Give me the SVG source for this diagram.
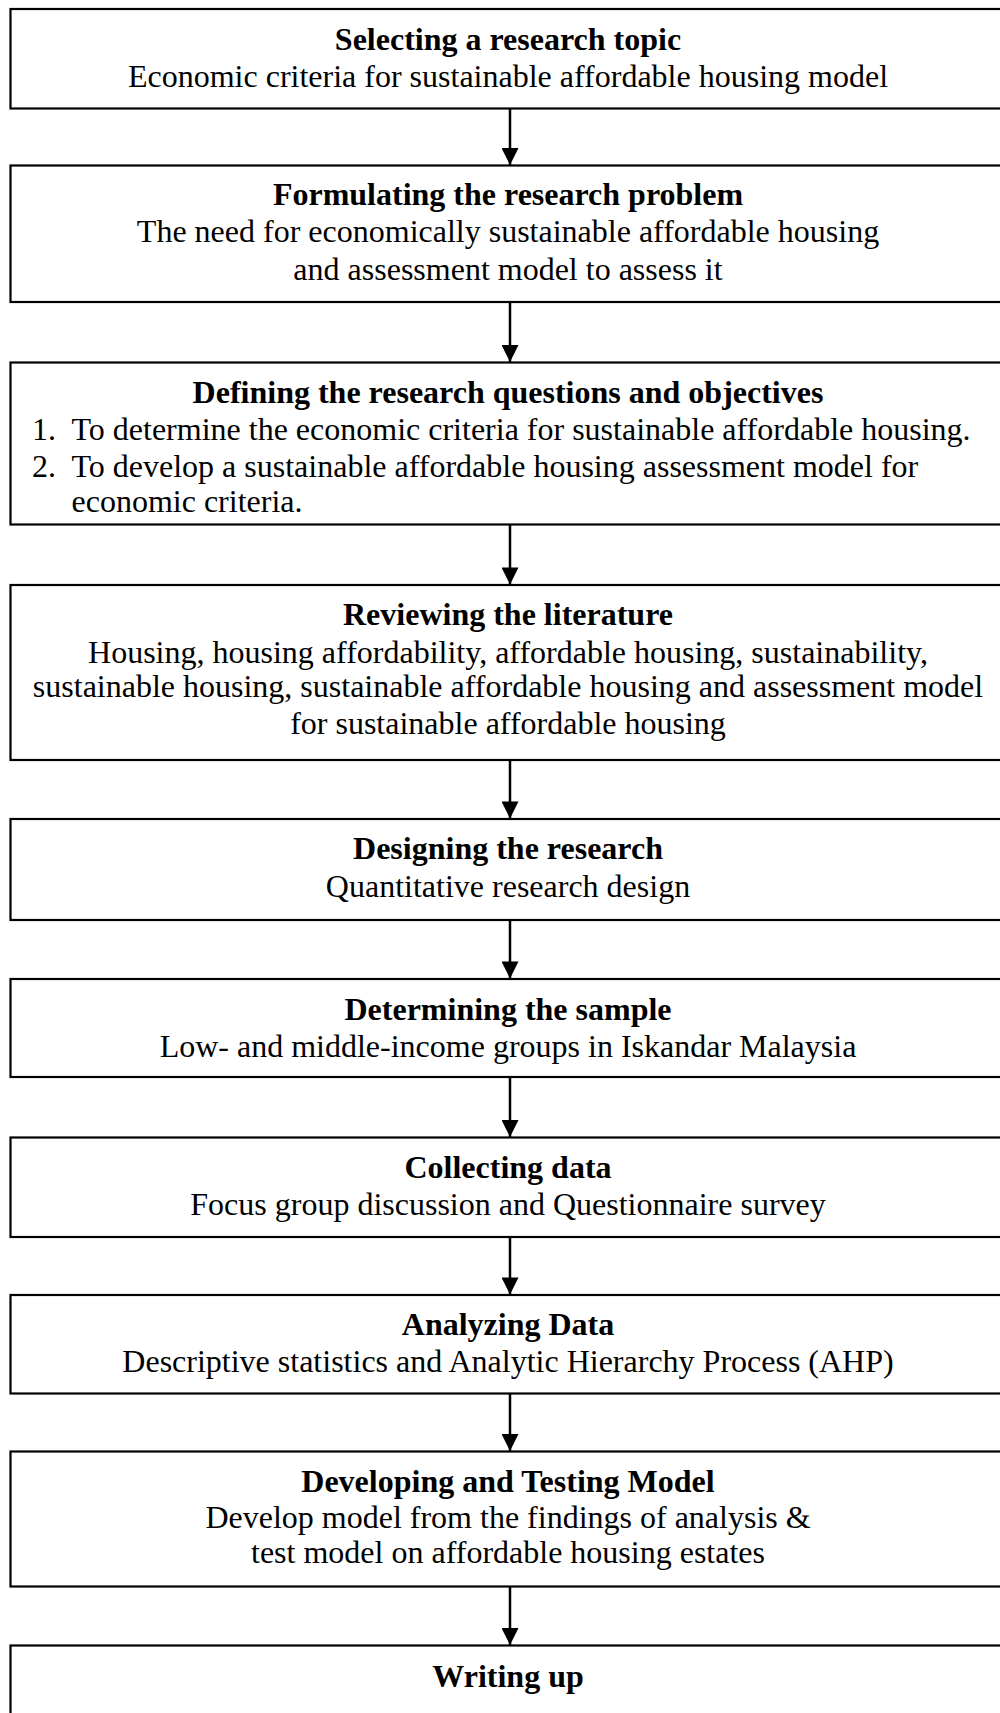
<svg xmlns="http://www.w3.org/2000/svg" width="1000" height="1713" viewBox="0 0 1000 1713">
<defs>
<style>
.box{fill:#fff;stroke:#000;stroke-width:2.2}
.t{font-family:"Liberation Serif","Times New Roman",serif;font-size:32px;fill:#000;text-anchor:middle}
.b{font-weight:bold}
.l{text-anchor:start}
.conn{stroke:#000;stroke-width:2.5;fill:none}
</style>
<marker id="ah" markerUnits="userSpaceOnUse" markerWidth="18" markerHeight="17" refX="17" refY="8.5" orient="auto" viewBox="0 0 17 17">
<path d="M0,0 L17,8.5 L0,17 Z" fill="#000"/>
</marker>
</defs>
<rect width="1000" height="1713" fill="#fff"/>
<g id="connectors">
<line class="conn" x1="510" y1="108.5" x2="510" y2="165" marker-end="url(#ah)"/>
<line class="conn" x1="510" y1="302" x2="510" y2="362" marker-end="url(#ah)"/>
<line class="conn" x1="510" y1="524.5" x2="510" y2="584.5" marker-end="url(#ah)"/>
<line class="conn" x1="510" y1="760" x2="510" y2="818.5" marker-end="url(#ah)"/>
<line class="conn" x1="510" y1="920" x2="510" y2="978.5" marker-end="url(#ah)"/>
<line class="conn" x1="510" y1="1077" x2="510" y2="1137" marker-end="url(#ah)"/>
<line class="conn" x1="510" y1="1237" x2="510" y2="1294.5" marker-end="url(#ah)"/>
<line class="conn" x1="510" y1="1393.5" x2="510" y2="1451" marker-end="url(#ah)"/>
<line class="conn" x1="510" y1="1586.5" x2="510" y2="1645" marker-end="url(#ah)"/>
</g>
<g id="n1">
<rect class="box" x="10.5" y="9" width="1010" height="99.5"/>
<text class="t b" x="508" y="50">Selecting a research topic</text>
<text class="t" x="508" y="87">Economic criteria for sustainable affordable housing model</text>
</g>
<g id="n2">
<rect class="box" x="10.5" y="165.5" width="1010" height="136.5"/>
<text class="t b" x="508" y="205">Formulating the research problem</text>
<text class="t" x="508" y="242">The need for economically sustainable affordable housing</text>
<text class="t" x="508" y="280">and assessment model to assess it</text>
</g>
<g id="n3">
<rect class="box" x="10.5" y="362.5" width="1010" height="162"/>
<text class="t b" x="508" y="403">Defining the research questions and objectives</text>
<text class="t l" x="32" y="440">1.</text>
<text class="t l" x="71.5" y="440">To determine the economic criteria for sustainable affordable housing.</text>
<text class="t l" x="32" y="477">2.</text>
<text class="t l" x="71.5" y="477">To develop a sustainable affordable housing assessment model for</text>
<text class="t l" x="71.5" y="512">economic criteria.</text>
</g>
<g id="n4">
<rect class="box" x="10.5" y="585" width="1010" height="175"/>
<text class="t b" x="508" y="625">Reviewing the literature</text>
<text class="t" x="508" y="663">Housing, housing affordability, affordable housing, sustainability,</text>
<text class="t" x="508" y="697">sustainable housing, sustainable affordable housing and assessment model</text>
<text class="t" x="508" y="734">for sustainable affordable housing</text>
</g>
<g id="n5">
<rect class="box" x="10.5" y="819" width="1010" height="101"/>
<text class="t b" x="508" y="859">Designing the research</text>
<text class="t" x="508" y="897">Quantitative research design</text>
</g>
<g id="n6">
<rect class="box" x="10.5" y="979" width="1010" height="98"/>
<text class="t b" x="508" y="1020">Determining the sample</text>
<text class="t" x="508" y="1057">Low- and middle-income groups in Iskandar Malaysia</text>
</g>
<g id="n7">
<rect class="box" x="10.5" y="1137.5" width="1010" height="99.5"/>
<text class="t b" x="508" y="1178">Collecting data</text>
<text class="t" x="508" y="1215">Focus group discussion and Questionnaire survey</text>
</g>
<g id="n8">
<rect class="box" x="10.5" y="1295" width="1010" height="98.5"/>
<text class="t b" x="508" y="1335">Analyzing Data</text>
<text class="t" x="508" y="1372">Descriptive statistics and Analytic Hierarchy Process (AHP)</text>
</g>
<g id="n9">
<rect class="box" x="10.5" y="1451.5" width="1010" height="135"/>
<text class="t b" x="508" y="1492">Developing and Testing Model</text>
<text class="t" x="508" y="1528">Develop model from the findings of analysis &amp;</text>
<text class="t" x="508" y="1563">test model on affordable housing estates</text>
</g>
<g id="n10">
<rect class="box" x="10.5" y="1645.5" width="1010" height="80"/>
<text class="t b" x="508" y="1687">Writing up</text>
</g>
</svg>
